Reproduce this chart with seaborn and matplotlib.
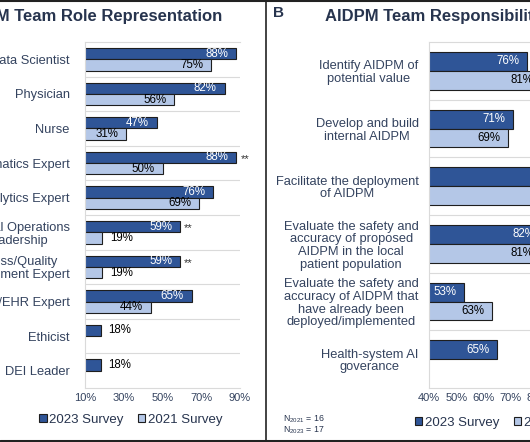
import numpy as np
import pandas as pd
import matplotlib
matplotlib.use("Agg")
import matplotlib.pyplot as plt
from matplotlib.lines import Line2D
import seaborn as sns

# Panel A: team roles
roles = ["Data Scientist", "Physician", "Nurse", "Informatics Expert",
         "Data Analytics Expert", "Clinical Operations\nLeadership",
         "Process/Quality\nImprovement Expert", "IT/EHR Expert",
         "Ethicist", "DEI Leader"]
roles_2023 = [88, 82, 47, 88, 76, 59, 59, 65, 18, 18]
roles_2021 = [75, 56, 31, 50, 69, 19, 19, 44, None, None]
roles_sig = [False, False, False, True, False, True, True, False, False, False]

# Panel B: team responsibilities
tasks = ["Identify AIDPM of\npotential value",
         "Develop and build\ninternal AIDPM",
         "Facilitate the deployment\nof AIDPM",
         "Evaluate the safety and\naccuracy of proposed\nAIDPM in the local\npatient population",
         "Evaluate the safety and\naccuracy of AIDPM that\nhave already been\ndeployed/implemented",
         "Health-system AI\ngoverance"]
tasks_2023 = [76, 71, 88, 82, 53, 65]
tasks_2021 = [81, 69, 94, 81, 63, None]

surveys = ["2023 Survey", "2021 Survey"]
colors = ["#2f5597", "#b4c7e7"]
text_col = "#34435f"
title_col = "#27344e"
grid_col = "#dadada"


def to_long(cats, v23, v21):
    rows = []
    for c, a, b in zip(cats, v23, v21):
        rows.append((c, surveys[0], a))
        if b is not None:
            rows.append((c, surveys[1], b))
    return pd.DataFrame(rows, columns=["category", "survey", "value"])


sns.set_style("white")
plt.rcParams["font.family"] = ["Liberation Sans", "DejaVu Sans"]
plt.rcParams["mathtext.fontset"] = "custom"
plt.rcParams["mathtext.rm"] = "Liberation Sans"

fig = plt.figure(figsize=(5.3, 4.42), dpi=100)
W, H = 530, 442


def px_axes(x0, x1, y0, y1):
    return fig.add_axes([x0 / W, 1 - y1 / H, (x1 - x0) / W, (y1 - y0) / H])


ax1 = px_axes(85, 240, 42, 388)
ax2 = px_axes(429, 565, 42, 388)


def draw_panel(ax, cats, v23, v21, xlim, xticks, inside_min, sig=None, ypad=11):
    df = to_long(cats, v23, v21)
    sns.barplot(data=df, y="category", x="value", hue="survey",
                order=cats, hue_order=surveys, palette=colors,
                width=0.65, saturation=1, errorbar=None, orient="h",
                edgecolor="#1e1e1e", linewidth=0.8, ax=ax)
    ax.set_xlim(*xlim)
    ax.set_xticks(xticks)
    ax.set_xticklabels([f"{t}%" for t in xticks])
    ax.set_xlabel("")
    ax.set_ylabel("")
    ax.tick_params(axis="x", length=0, pad=3.5, labelsize=8, labelcolor=text_col)
    ax.tick_params(axis="y", length=0, pad=ypad, labelsize=9.3, labelcolor=text_col)
    for lbl in ax.get_yticklabels():
        lbl.set_multialignment("center")
        lbl.set_linespacing(1.08)
    ax.set_yticks(np.arange(len(cats) - 1) + 0.5, minor=True)
    ax.tick_params(which="minor", length=0)
    ax.grid(False)
    ax.grid(which="minor", axis="y", color=grid_col, lw=0.8)
    for s in ["left", "top", "bottom"]:
        ax.spines[s].set_color(grid_col)
        ax.spines[s].set_linewidth(0.8)
    ax.spines["right"].set_visible(False)

    # value labels
    for k, cont in enumerate(ax.containers):
        for bar in cont:
            w = bar.get_width()
            yc = bar.get_y() + bar.get_height() / 2
            if w >= inside_min:
                ax.annotate(f"{w:.0f}%", xy=(w, yc), xytext=(-5.5, 0),
                            textcoords="offset points", ha="right", va="center",
                            fontsize=8.3, color="white" if k == 0 else "black")
            else:
                ax.annotate(f"{w:.0f}%", xy=(w, yc), xytext=(5.5, 0),
                            textcoords="offset points", ha="left", va="center",
                            fontsize=8.3, color="black")
    if sig is not None:
        for bar, s in zip(ax.containers[0], sig):
            if s:
                ax.annotate("**", xy=(bar.get_width(), bar.get_y() + bar.get_height() / 2),
                            xytext=(3, -1), textcoords="offset points",
                            ha="left", va="center", fontsize=8, color="#333333")


draw_panel(ax1, roles, roles_2023, roles_2021, (10, 90), [10, 30, 50, 70, 90],
           25, sig=roles_sig, ypad=11)
draw_panel(ax2, tasks, tasks_2023, tasks_2021, (40, 90), [40, 50, 60, 70, 80, 90],
           45, ypad=7.5)

leg_kw = dict(ncol=2, frameon=False, title=None, fontsize=9.5,
              handlelength=0.55, handleheight=0.55, handletextpad=0.2,
              columnspacing=1.1, borderpad=0, borderaxespad=0, labelcolor=title_col)
sns.move_legend(ax1, "center", bbox_to_anchor=(0.297, -0.0925), **leg_kw)
sns.move_legend(ax2, "center left", bbox_to_anchor=(-0.103, -0.1), **leg_kw)

# titles and notes
fig.text(222 / W, 1 - 17 / H, "AIDPM Team Role Representation", ha="right",
         va="center", fontsize=12, fontweight="bold", color=title_col)
fig.text(273 / W, 1 - 13 / H, "B", ha="left", va="center", fontsize=11,
         fontweight="bold", color=title_col)
fig.text(325 / W, 1 - 17 / H, "AIDPM Team Responsibilities", ha="left",
         va="center", fontsize=12, fontweight="bold", color=title_col)
fig.text(283 / W, 1 - 419.5 / H, r"N$_{2021}$ = 16", ha="left", va="center",
         fontsize=6.3, color=title_col)
fig.text(283 / W, 1 - 430 / H, r"N$_{2023}$ = 17", ha="left", va="center",
         fontsize=6.3, color=title_col)

# panel frame
fig.add_artist(Line2D([265.5 / W] * 2, [0, 1], transform=fig.transFigure,
                      color="#222222", lw=1.2))
fig.add_artist(Line2D([0, 1], [1 - 0.8 / H] * 2, transform=fig.transFigure,
                      color="#222222", lw=1.5))
fig.add_artist(Line2D([0, 1], [1.5 / H] * 2, transform=fig.transFigure,
                      color="#222222", lw=2.2))

fig.savefig("out.png", dpi=100)
